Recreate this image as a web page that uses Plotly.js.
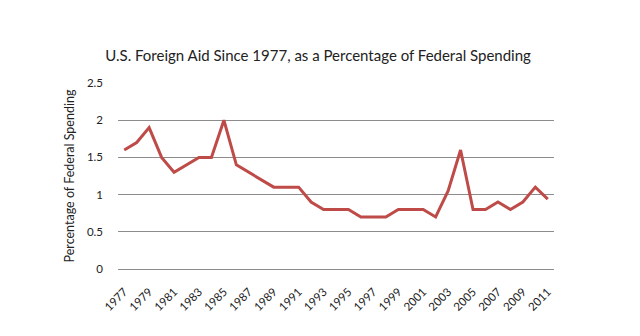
<!DOCTYPE html>
<html><head><meta charset="utf-8">
<script src="https://cdn.plot.ly/plotly-3.0.1.min.js"></script>
<style>html,body{margin:0;padding:0;background:#fff}#chart{width:640px;height:336px}</style>
</head><body><div id="chart"></div>
<script>
var years = ['1977','1978','1979','1980','1981','1982','1983','1984','1985','1986','1987','1988','1989','1990','1991','1992','1993','1994','1995','1996','1997','1998','1999','2000','2001','2002','2003','2004','2005','2006','2007','2008','2009','2010','2011'];
var aidPct = [1.6,1.7,1.9,1.5,1.3,1.4,1.5,1.5,2.0,1.4,1.3,1.2,1.1,1.1,1.1,0.9,0.8,0.8,0.8,0.7,0.7,0.7,0.8,0.8,0.8,0.7,1.05,1.6,0.8,0.8,0.9,0.8,0.9,1.1,0.94];
var tickYears = ['1977','1979','1981','1983','1985','1987','1989','1991','1993','1995','1997','1999','2001','2003','2005','2007','2009','2011'];
var yTicks = [0,0.5,1,1.5,2,2.5];
var yTickText = ['0','0.5','1','1.5','2','2.5'];

var font = 'Lato, "Open Sans", sans-serif';
Plotly.newPlot('chart', [{
  x: years, y: aidPct, type: 'scatter', mode: 'lines',
  line: {color: '#be4b48', width: 3}
}], {
  width: 640, height: 336,
  margin: {l: 118, r: 86, t: 83, b: 67},
  paper_bgcolor: '#fff', plot_bgcolor: '#fff',
  showlegend: false,
  title: {text: 'U.S. Foreign Aid Since 1977, as a Percentage of Federal Spending',
    font: {family: font, size: 15, color: '#222'}, x: 0.497, xanchor: 'center', y: 0.835, yanchor: 'middle'},
  xaxis: {type: 'category', range: [-0.5, 34.5], tickmode: 'array', tickvals: tickYears, ticktext: tickYears,
    tickangle: -45, showgrid: false, showline: false, zeroline: false, ticks: '', ticklabelstandoff: 13,
    tickfont: {family: font, size: 11.5, color: '#222'}},
  yaxis: {range: [0, 2.5], tickmode: 'array', tickvals: yTicks, ticktext: yTickText,
    showgrid: true, gridcolor: '#8c8c8c', gridwidth: 1, zeroline: true, zerolinecolor: '#8c8c8c', zerolinewidth: 1,
    showline: false, ticks: '', ticklabelstandoff: 14,
    tickfont: {family: font, size: 11.5, color: '#222'},
    title: {text: 'Percentage of Federal Spending', standoff: 9, font: {family: font, size: 12.5, color: '#222'}}}
}, {displayModeBar: false, staticPlot: true});
</script></body></html>
